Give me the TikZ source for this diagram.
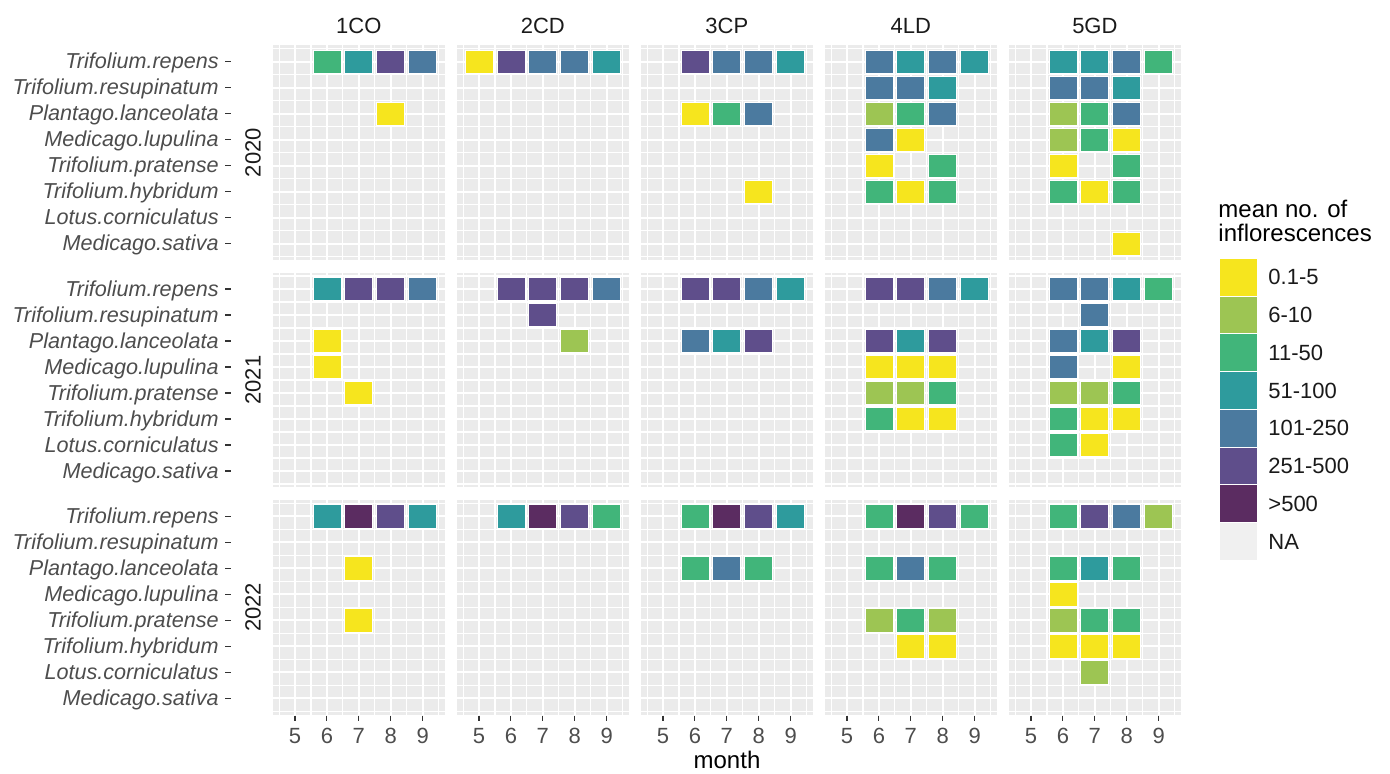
\documentclass[tikz,border=0pt]{standalone}
\usepackage{fontspec}
\setmainfont{Liberation Sans}
\definecolor{cY}{HTML}{F6E51E}
\definecolor{cL}{HTML}{9DC553}
\definecolor{cG}{HTML}{41B57A}
\definecolor{cT}{HTML}{2E9B9D}
\definecolor{cB}{HTML}{4B7A9F}
\definecolor{cP}{HTML}{5F4E8B}
\definecolor{cD}{HTML}{5B2C61}
\definecolor{cNA}{HTML}{F0F0F0}
\definecolor{panelbg}{HTML}{EBEBEB}
\definecolor{axisgrey}{HTML}{4D4D4D}
\definecolor{stripgrey}{HTML}{1A1A1A}
\begin{document}
\begin{tikzpicture}[x=0.5pt,y=-0.5pt,
  lab/.style={inner sep=0pt,text=axisgrey,font=\fontsize{11}{13}\selectfont},
  sp/.style={lab,anchor=base east,font=\fontsize{10.8}{13}\selectfont\itshape},
  strip/.style={inner sep=0pt,text=stripgrey,font=\fontsize{11}{13}\selectfont},
  ttl/.style={inner sep=0pt,font=\fontsize{12}{14}\selectfont},
  tickc/.style={draw=black!80,line width=0.55pt},
  tile/.style={draw=white,line width=0.4pt}]
\useasboundingbox (0,0) rectangle (1390,774);
\foreach \c/\t in {0/1CO,1/2CD,2/3CP,3/4LD,4/5GD}{
  \pgfmathsetmacro\px{272.7+184*\c}
  \node[strip,anchor=base] (col-\c) at (\px+86.15,33.5) {\t};
  \foreach \r in {0,1,2}{
    \pgfmathsetmacro\py{45.5+227.3*\r}
    \fill[panelbg] (\px,\py) rectangle ++(172.3,214.4);
    \foreach \m in {4.5,5.5,...,9.5}\draw[white,line width=0.55pt] ({\px+(\m-4.3)*31.9},\py)--++(0,214.4);
    \foreach \s in {0.5,1.5,...,8.5}\draw[white,line width=0.55pt] (\px,{\py+16.2+(\s-1)*26})--++(172.3,0);
    \foreach \m in {5,...,9}\draw[white,line width=1.1pt] ({\px+(\m-4.3)*31.9},\py)--++(0,214.4);
    \foreach \s in {1,...,8}\draw[white,line width=1.1pt] (\px,{\py+16.2+(\s-1)*26})--++(172.3,0);
  }
  \foreach \m in {5,...,9}{
    \draw[tickc] ({\px+(\m-4.3)*31.9},715.6)--++(0,5.5);
    \node[lab,anchor=base] (mo-\c-\m) at ({\px+(\m-4.3)*31.9},743) {\m};
  }
}
\foreach \r/\y in {0/2020,1/2021,2/2022}{
  \pgfmathsetmacro\py{45.5+227.3*\r}
  \node[strip,rotate=90] (yr-\r) at (253,\py+107.2) {\y};
  \foreach \n [count=\s] in {Trifolium.repens,Trifolium.resupinatum,Plantago.lanceolata,Medicago.lupulina,Trifolium.pratense,Trifolium.hybridum,Lotus.corniculatus,Medicago.sativa}{
    \node[sp] (sp-\r-\s) at (219,{\py+16.2+(\s-1)*26+7.3}) {\n};
    \draw[tickc] (225,{\py+16.2+(\s-1)*26})--++(5.5,0);
  }
}
\foreach \r/\c/\cells in {
  0/0/{1/6/G,1/7/T,1/8/P,1/9/B,3/8/Y},
  0/1/{1/5/Y,1/6/P,1/7/B,1/8/B,1/9/T},
  0/2/{1/6/P,1/7/B,1/8/B,1/9/T,3/6/Y,3/7/G,3/8/B,6/8/Y},
  0/3/{1/6/B,1/7/T,1/8/B,1/9/T,2/6/B,2/7/B,2/8/T,3/6/L,3/7/G,3/8/B,4/6/B,4/7/Y,5/6/Y,5/8/G,6/6/G,6/7/Y,6/8/G},
  0/4/{1/6/T,1/7/T,1/8/B,1/9/G,2/6/B,2/7/B,2/8/T,3/6/L,3/7/G,3/8/B,4/6/L,4/7/G,4/8/Y,5/6/Y,5/8/G,6/6/G,6/7/Y,6/8/G,8/8/Y},
  1/0/{1/6/T,1/7/P,1/8/P,1/9/B,3/6/Y,4/6/Y,5/7/Y},
  1/1/{1/6/P,1/7/P,1/8/P,1/9/B,2/7/P,3/8/L},
  1/2/{1/6/P,1/7/P,1/8/B,1/9/T,3/6/B,3/7/T,3/8/P},
  1/3/{1/6/P,1/7/P,1/8/B,1/9/T,3/6/P,3/7/T,3/8/P,4/6/Y,4/7/Y,4/8/Y,5/6/L,5/7/L,5/8/G,6/6/G,6/7/Y,6/8/Y},
  1/4/{1/6/B,1/7/B,1/8/T,1/9/G,2/7/B,3/6/B,3/7/T,3/8/P,4/6/B,4/8/Y,5/6/L,5/7/L,5/8/G,6/6/G,6/7/Y,6/8/Y,7/6/G,7/7/Y},
  2/0/{1/6/T,1/7/D,1/8/P,1/9/T,3/7/Y,5/7/Y},
  2/1/{1/6/T,1/7/D,1/8/P,1/9/G},
  2/2/{1/6/G,1/7/D,1/8/P,1/9/T,3/6/G,3/7/B,3/8/G},
  2/3/{1/6/G,1/7/D,1/8/P,1/9/G,3/6/G,3/7/B,3/8/G,5/6/L,5/7/G,5/8/L,6/7/Y,6/8/Y},
  2/4/{1/6/G,1/7/P,1/8/B,1/9/L,3/6/G,3/7/T,3/8/G,4/6/Y,5/6/L,5/7/G,5/8/G,6/6/Y,6/7/Y,6/8/Y,7/7/L}}{
  \foreach \s/\m/\k in \cells
    \draw[tile,fill=c\k] ({272.7+184*\c+(\m-4.3)*31.9-14},{45.5+227.3*\r+16.2+(\s-1)*26-11.7}) rectangle ++(28,23.4);
}
\node[ttl,anchor=base] (xlab) at (727,768) {month};
\node[ttl,anchor=base west] (leg-1) at (1218,218) {mean no. of};
\node[ttl,anchor=base west] (leg-2) at (1218,242) {inflorescences};
\foreach \k/\v [count=\i from 0] in {Y/0.1-5,L/6-10,G/11-50,T/51-100,B/101-250,P/251-500,D/>500,NA/NA}{
  \draw[tile,fill=c\k] (1219,{258.3+37.75*\i}) rectangle ++(38,37.75);
  \node[strip,anchor=base west] (key-\i) at (1268,{258.3+37.75*\i+18.9+7.8}) {\v};
}
\end{tikzpicture}
\end{document}
